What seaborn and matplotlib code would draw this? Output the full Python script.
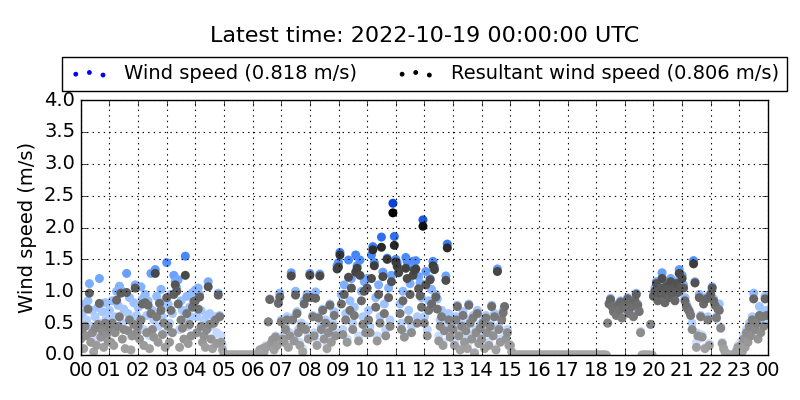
import matplotlib
matplotlib.use("Agg")
import matplotlib.dates as mdates
import matplotlib.pyplot as plt
import numpy as np
import pandas as pd
import seaborn as sns
from matplotlib.colors import LinearSegmentedColormap

title = "Latest time: 2022-10-19 00:00:00 UTC"
wind_label = "Wind speed (0.818 m/s)"
resultant_label = "Resultant wind speed (0.806 m/s)"
start = "2022-10-18 00:00"
end = "2022-10-19 00:00"
step = "3min"

# one row per hour, 3-minute samples (m/s)
wind_speed = [
    0.40, 0.65, 0.30, 0.80, 0.55, 0.85, 1.12, 0.45, 0.70, 0.35, 0.60, 0.25, 0.75, 1.20, 0.50, 0.68, 0.38, 0.82, 0.58, 0.45,
    0.70, 0.45, 0.85, 0.35, 0.60, 1.00, 0.78, 1.08, 1.02, 0.50, 0.72, 0.40, 1.28, 0.65, 0.90, 0.30, 0.55, 0.82, 1.10, 0.62,
    0.75, 0.50, 1.07, 0.88, 0.40, 0.95, 0.62, 0.85, 0.30, 1.28, 0.70, 0.55, 1.34, 0.92, 0.45, 0.83, 1.03, 0.60, 0.78, 0.35,
    1.45, 0.80, 0.50, 0.95, 0.65, 1.25, 1.15, 1.05, 1.18, 0.40, 0.85, 0.70, 0.55, 1.55, 0.92, 0.45, 0.75, 0.60, 0.98, 0.88,
    1.02, 0.60, 1.05, 0.95, 0.70, 0.40, 0.55, 0.30, 0.62, 1.15, 0.65, 0.45, 0.25, 0.58, 0.60, 0.35, 0.97, 0.62, 0.30, 0.15,
    0.00, 0.00, 0.00, 0.00, 0.00, 0.00, 0.00, 0.00, 0.00, 0.00, 0.00, 0.00, 0.00, 0.00, 0.00, 0.00, 0.00, 0.00, 0.00, 0.00,
    0.00, 0.00, 0.00, 0.00, 0.00, 0.08, 0.03, 0.10, 0.05, 0.15, 0.13, 0.52, 0.88, 0.20, 0.24, 0.10, 0.30, 0.18, 0.83, 0.97,
    0.55, 0.30, 0.25, 0.45, 0.60, 0.15, 0.35, 1.29, 0.58, 0.28, 1.00, 0.68, 0.40, 0.20, 0.50, 0.10, 0.85, 0.45, 0.95, 0.30,
    1.28, 0.92, 0.62, 0.35, 0.99, 0.20, 0.60, 1.27, 0.45, 0.72, 0.30, 0.55, 0.15, 0.40, 0.80, 0.25, 0.50, 0.68, 0.35, 1.40,
    1.45, 1.61, 0.95, 0.40, 1.10, 0.65, 0.25, 1.49, 0.85, 1.20, 0.50, 0.75, 1.57, 1.40, 0.30, 1.49, 1.00, 0.60, 1.15, 0.45,
    1.20, 0.70, 0.45, 1.57, 1.70, 1.45, 0.90, 0.30, 1.10, 0.60, 1.85, 1.30, 0.80, 0.40, 1.52, 1.05, 0.55, 1.25, 2.38, 1.86,
    1.50, 1.45, 1.35, 0.80, 0.50, 1.00, 0.35, 1.53, 1.46, 0.70, 1.12, 0.45, 1.47, 1.38, 1.48, 0.60, 1.23, 1.13, 0.90, 2.12,
    0.60, 1.31, 0.40, 0.85, 1.20, 1.03, 1.47, 1.38, 0.95, 0.88, 0.30, 0.55, 0.70, 0.20, 0.45, 1.24, 1.74, 0.65, 0.35, 0.50,
    0.45, 0.20, 0.60, 0.78, 0.35, 0.10, 0.50, 0.68, 0.25, 0.42, 0.15, 0.80, 0.55, 0.30, 0.62, 0.05, 0.40, 0.70, 0.22, 0.48,
    0.30, 0.55, 0.15, 0.62, 0.40, 0.20, 0.50, 0.78, 0.35, 0.65, 0.10, 1.35, 0.45, 0.25, 0.58, 0.70, 0.76, 0.30, 0.40, 0.18,
    0.16, 0.05, 0.00, 0.00, 0.00, 0.00, 0.00, 0.00, 0.00, 0.00, 0.00, 0.00, 0.00, 0.00, 0.00, 0.00, 0.00, 0.00, 0.00, 0.00,
    0.00, 0.00, 0.00, 0.00, 0.00, 0.00, 0.00, 0.00, 0.00, 0.00, 0.00, 0.00, 0.00, 0.00, 0.00, 0.00, 0.00, 0.00, 0.00, 0.00,
    0.00, 0.00, 0.00, 0.00, 0.00, 0.00, 0.00, 0.00, 0.00, 0.00, 0.00, 0.00, 0.00, 0.00, 0.00, 0.00, 0.00, 0.00, 0.00, 0.00,
    0.00, 0.00, 0.00, 0.00, 0.00, 0.00, 0.00, 0.00, 0.50, 0.82, 0.89, 0.78, 0.70, 0.75, 0.65, 0.80, 0.72, 0.85, 0.60, 0.78,
    0.82, 0.75, 0.90, 0.68, 0.85, 0.78, 0.62, 0.88, 0.97, 0.80, 0.70, 0.37, 0.00, 0.00, 0.00, 0.00, 0.00, 0.00, 0.48, 0.00,
    0.95, 1.05, 1.15, 0.90, 1.00, 1.10, 1.29, 0.98, 0.85, 1.12, 1.05, 0.92, 1.20, 1.00, 1.08, 0.88, 1.15, 1.02, 1.34, 1.10,
    1.25, 1.10, 0.90, 0.80, 0.75, 0.70, 0.65, 0.50, 1.48, 1.15, 0.20, 0.34, 0.95, 0.62, 0.31, 0.85, 0.12, 0.91, 0.60, 0.18,
    0.97, 1.07, 0.88, 0.81, 0.60, 0.75, 0.80, 0.44, 0.20, 0.12, 0.05, 0.00, 0.00, 0.00, 0.00, 0.00, 0.00, 0.00, 0.08, 0.15,
    0.10, 0.20, 0.05, 0.30, 0.15, 0.40, 0.25, 0.50, 0.35, 0.60, 0.97, 0.45, 0.55, 0.30, 0.76, 0.40, 0.65, 0.50, 0.92, 0.70,
]

resultant_speed = [
    0.25, 0.40, 0.10, 0.45, 0.30, 0.72, 0.97, 0.20, 0.35, 0.05, 0.42, 0.15, 0.48, 0.81, 0.28, 0.38, 0.12, 0.50, 0.32, 0.22,
    0.42, 0.20, 0.50, 0.15, 0.35, 0.86, 0.45, 0.60, 0.97, 0.25, 0.40, 0.10, 0.98, 0.38, 0.55, 0.08, 0.30, 0.48, 1.05, 0.35,
    0.45, 0.25, 0.55, 0.80, 0.15, 0.82, 0.35, 0.78, 0.10, 0.65, 0.40, 0.28, 1.28, 0.60, 0.20, 0.81, 0.70, 0.32, 0.50, 0.12,
    0.90, 0.45, 0.20, 0.70, 0.35, 0.95, 1.10, 1.00, 0.80, 0.12, 0.55, 0.42, 0.25, 1.25, 0.65, 0.18, 0.48, 0.30, 0.75, 0.84,
    0.85, 0.35, 0.72, 0.91, 0.45, 0.20, 0.30, 0.12, 0.40, 1.07, 0.48, 0.25, 0.10, 0.50, 0.55, 0.18, 0.94, 0.60, 0.20, 0.08,
    0.00, 0.00, 0.00, 0.00, 0.00, 0.00, 0.00, 0.00, 0.00, 0.00, 0.00, 0.00, 0.00, 0.00, 0.00, 0.00, 0.00, 0.00, 0.00, 0.00,
    0.00, 0.00, 0.00, 0.00, 0.00, 0.08, 0.03, 0.10, 0.05, 0.12, 0.13, 0.52, 0.87, 0.18, 0.24, 0.08, 0.28, 0.15, 0.81, 0.91,
    0.52, 0.25, 0.20, 0.40, 0.55, 0.12, 0.30, 1.24, 0.55, 0.22, 0.94, 0.65, 0.35, 0.15, 0.45, 0.05, 0.80, 0.40, 0.90, 0.25,
    1.25, 0.90, 0.60, 0.30, 0.89, 0.15, 0.58, 1.24, 0.40, 0.70, 0.25, 0.50, 0.10, 0.35, 0.78, 0.20, 0.45, 0.62, 0.30, 1.35,
    1.38, 1.57, 0.80, 0.32, 0.95, 0.55, 0.20, 1.22, 0.70, 1.05, 0.40, 0.62, 1.30, 1.36, 0.22, 1.25, 0.85, 0.48, 1.00, 0.35,
    1.05, 0.55, 0.35, 1.20, 1.65, 1.40, 0.75, 0.22, 0.95, 0.50, 1.69, 1.23, 0.65, 0.30, 1.50, 0.90, 0.45, 1.15, 2.23, 1.72,
    1.46, 1.39, 1.29, 0.65, 0.40, 0.85, 0.28, 1.36, 1.20, 0.55, 0.95, 0.35, 1.25, 1.33, 1.35, 0.50, 1.04, 0.93, 0.75, 2.02,
    0.50, 1.10, 0.30, 0.70, 1.18, 0.80, 1.40, 1.34, 0.91, 0.72, 0.22, 0.45, 0.60, 0.15, 0.38, 1.17, 1.68, 0.55, 0.28, 0.42,
    0.40, 0.15, 0.55, 0.76, 0.30, 0.08, 0.45, 0.62, 0.20, 0.38, 0.10, 0.78, 0.50, 0.25, 0.58, 0.03, 0.35, 0.65, 0.18, 0.42,
    0.25, 0.50, 0.10, 0.58, 0.35, 0.15, 0.45, 0.76, 0.30, 0.60, 0.08, 1.31, 0.40, 0.20, 0.55, 0.66, 0.76, 0.25, 0.35, 0.15,
    0.15, 0.05, 0.00, 0.00, 0.00, 0.00, 0.00, 0.00, 0.00, 0.00, 0.00, 0.00, 0.00, 0.00, 0.00, 0.00, 0.00, 0.00, 0.00, 0.00,
    0.00, 0.00, 0.00, 0.00, 0.00, 0.00, 0.00, 0.00, 0.00, 0.00, 0.00, 0.00, 0.00, 0.00, 0.00, 0.00, 0.00, 0.00, 0.00, 0.00,
    0.00, 0.00, 0.00, 0.00, 0.00, 0.00, 0.00, 0.00, 0.00, 0.00, 0.00, 0.00, 0.00, 0.00, 0.00, 0.00, 0.00, 0.00, 0.00, 0.00,
    0.00, 0.00, 0.00, 0.00, 0.00, 0.00, 0.00, 0.00, 0.50, 0.80, 0.87, 0.76, 0.68, 0.72, 0.62, 0.78, 0.70, 0.83, 0.58, 0.75,
    0.80, 0.72, 0.88, 0.65, 0.83, 0.76, 0.60, 0.85, 0.95, 0.78, 0.68, 0.35, 0.00, 0.00, 0.00, 0.00, 0.00, 0.00, 0.48, 0.00,
    0.92, 1.00, 1.12, 0.85, 0.97, 1.05, 1.20, 0.95, 0.82, 1.08, 1.02, 0.90, 1.15, 0.96, 1.05, 0.85, 1.12, 0.98, 1.28, 1.05,
    1.20, 1.05, 0.85, 0.76, 0.72, 0.68, 0.62, 0.40, 1.43, 1.13, 0.12, 0.30, 0.90, 0.60, 0.28, 0.80, 0.10, 0.88, 0.55, 0.15,
    0.95, 1.05, 0.85, 0.78, 0.58, 0.72, 0.70, 0.42, 0.18, 0.10, 0.05, 0.00, 0.00, 0.00, 0.00, 0.00, 0.00, 0.00, 0.06, 0.12,
    0.08, 0.15, 0.05, 0.25, 0.12, 0.35, 0.20, 0.45, 0.30, 0.55, 0.88, 0.40, 0.50, 0.25, 0.62, 0.35, 0.60, 0.45, 0.88, 0.62,
]

plt.style.use("classic")
plt.rcParams["figure.facecolor"] = "white"
plt.rcParams["savefig.facecolor"] = "white"
plt.rcParams["font.family"] = ["DejaVu Sans"]

times = pd.date_range(start, periods=len(wind_speed), freq=step)
df = pd.DataFrame({"time": times, "wind": wind_speed, "resultant": resultant_speed})

wind_cmap = LinearSegmentedColormap.from_list(
    "wind", [(0.0, "#dce8ff"), (0.4, "#8cb8ff"), (0.6, "#4a8cff"), (1.0, "#0038d0")]
)
res_cmap = LinearSegmentedColormap.from_list("res", ["#a6a6a6", "#000000"])

fig = plt.figure(figsize=(8, 4), dpi=100)
ax = fig.add_axes([0.101, 0.1125, 0.859, 0.6375])

sns.scatterplot(data=df, x="time", y="wind", hue="wind", palette=wind_cmap,
                hue_norm=(0, 2.5), s=42, linewidth=0, legend=False, ax=ax)
sns.scatterplot(data=df, x="time", y="resultant", hue="resultant", palette=res_cmap,
                hue_norm=(0, 2.25), s=42, linewidth=0, legend=False, ax=ax)

ax.set_xlim(pd.Timestamp(start), pd.Timestamp(end))
ax.set_ylim(0, 4)
ax.set_yticks(np.arange(0, 4.01, 0.5))
ax.xaxis.set_major_locator(mdates.HourLocator(interval=1))
ax.xaxis.set_major_formatter(mdates.DateFormatter("%H"))
ax.tick_params(labelsize=14)
ax.set_xlabel("")
ax.set_ylabel("Wind speed (m/s)", fontsize=14)
ax.grid(True, linestyle=":", color="k", linewidth=0.8)

h1 = ax.scatter([], [], color="blue", s=12, linewidth=0, label=wind_label)
h2 = ax.scatter([], [], color="black", s=12, linewidth=0, label=resultant_label)
ax.legend(handles=[h1, h2], loc="lower center", bbox_to_anchor=(0.5, 1.035), ncol=2,
          fontsize=14, scatterpoints=3, frameon=True, borderaxespad=0, columnspacing=2.0,
          handletextpad=0.8)

ax.set_title(title, fontsize=16, y=1.2)

fig.savefig("out.png", dpi=100)
plt.close(fig)
